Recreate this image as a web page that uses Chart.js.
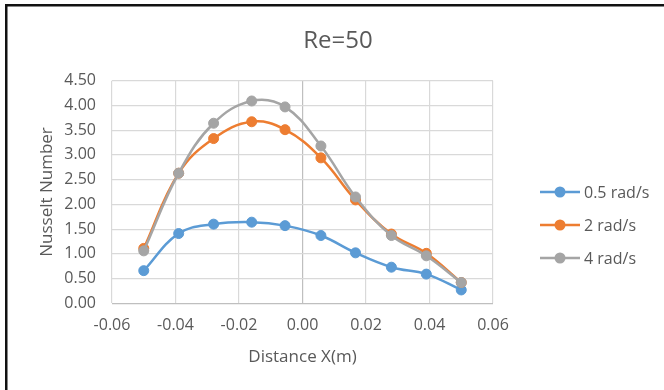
<!DOCTYPE html>
<html>
<head>
<meta charset="utf-8">
<script src="https://cdn.jsdelivr.net/npm/chart.js@4/dist/chart.umd.min.js"></script>
<style>
  html, body { margin: 0; padding: 0; background: #fff; }
  #wrap { width: 664px; height: 390px; }
</style>
</head>
<body>
<div id="wrap"><canvas id="c" width="664" height="390"></canvas></div>
<script>
// ---- data ----
const titleText = "Re=50";
const xTitle = "Distance X(m)";
const yTitle = "Nusselt Number";
const seriesNames = ["0.5 rad/s", "2 rad/s", "4 rad/s"];
const xValues = [-0.050, -0.039, -0.028, -0.016, -0.0055, 0.0058, 0.0167, 0.028, 0.039, 0.050];
const nu05 = [0.66, 1.41, 1.60, 1.64, 1.57, 1.37, 1.02, 0.73, 0.59, 0.27];
const nu2  = [1.11, 2.63, 3.33, 3.67, 3.51, 2.94, 2.09, 1.40, 1.01, 0.42];
const nu4  = [1.06, 2.63, 3.64, 4.09, 3.97, 3.18, 2.15, 1.37, 0.96, 0.42];
const xTicks = [-0.06, -0.04, -0.02, 0.00, 0.02, 0.04, 0.06];
const yTicks = [0.00, 0.50, 1.00, 1.50, 2.00, 2.50, 3.00, 3.50, 4.00, 4.50];

const colors = ["#5B9BD5", "#ED7D31", "#A5A5A5"];
const textColor = "#595959";
const FONT = "'Open Sans', 'Noto Sans', sans-serif";

function pts(ys) { return xValues.map((x, i) => ({ x: x, y: ys[i] })); }
const seriesValues = [nu05, nu2, nu4];

const datasets = seriesValues.map((ys, i) => ({
  label: seriesNames[i],
  data: pts(ys),
  showLine: true,
  borderColor: colors[i],
  backgroundColor: colors[i],
  pointBackgroundColor: colors[i],
  pointBorderColor: colors[i],
  pointRadius: 5,
  pointHoverRadius: 5,
  pointBorderWidth: 1,
  borderWidth: 2.5,
  tension: 0.4,
  order: 3 - i
}));

const decor = {
  id: 'decor',
  beforeDraw(chart) {
    const ctx = chart.ctx;
    ctx.save();
    ctx.fillStyle = '#ffffff';
    ctx.fillRect(0, 0, chart.width, chart.height);
    ctx.fillStyle = '#111111';
    ctx.fillRect(5, 4, chart.width - 5, 2.5);
    ctx.fillRect(5, 4, 2.5, chart.height - 4);
    ctx.restore();
  },
  afterDraw(chart) {
    const ctx = chart.ctx;
    ctx.save();
    // title
    ctx.fillStyle = textColor;
    ctx.font = "24px " + FONT;
    ctx.textAlign = 'center';
    ctx.textBaseline = 'middle';
    ctx.fillText(titleText, 338, 41);
    // legend
    const ys = [192, 225, 258];
    ctx.font = "16px " + FONT;
    ctx.textAlign = 'left';
    seriesNames.forEach((name, i) => {
      const y = ys[i];
      ctx.strokeStyle = colors[i];
      ctx.lineWidth = 2.5;
      ctx.beginPath();
      ctx.moveTo(540, y);
      ctx.lineTo(580, y);
      ctx.stroke();
      ctx.fillStyle = colors[i];
      ctx.beginPath();
      ctx.arc(560, y, 5.5, 0, Math.PI * 2);
      ctx.fill();
      ctx.fillStyle = textColor;
      ctx.fillText(name, 584, y + 1);
    });
    ctx.restore();
  }
};

new Chart(document.getElementById('c'), {
  type: 'scatter',
  data: { datasets },
  options: {
    responsive: false,
    animation: false,
    layout: { padding: { left: 0, top: 80.7, right: 171, bottom: 0 } },
    plugins: {
      legend: { display: false },
      title: { display: false },
      tooltip: { enabled: false }
    },
    scales: {
      x: {
        type: 'linear',
        min: -0.06, max: 0.06,
        afterBuildTicks(scale) { scale.ticks = xTicks.map(v => ({ value: v })); },
        afterFit(scale) { scale.height = 390 - 303.3; },
        ticks: {
          color: textColor,
          font: { family: FONT, size: 16 },
          padding: 13,
          maxRotation: 0,
          callback: (v) => Number(v).toFixed(2)
        },
        grid: {
          drawTicks: false,
          lineWidth: 1.2,
          color: (c) => (c.tick && Math.abs(c.tick.value) < 1e-9) ? '#BFBFBF' : '#D9D9D9'
        },
        border: { display: false },
        title: {
          display: true,
          text: xTitle,
          color: textColor,
          font: { family: FONT, size: 17 },
          padding: { top: 0, bottom: 23 }
        }
      },
      y: {
        type: 'linear',
        min: 0, max: 4.5,
        afterBuildTicks(scale) { scale.ticks = yTicks.map(v => ({ value: v })); },
        afterFit(scale) { scale.width = 112; },
        ticks: {
          color: textColor,
          font: { family: FONT, size: 16 },
          padding: 16,
          callback: (v) => Number(v).toFixed(2)
        },
        grid: {
          drawTicks: false,
          lineWidth: 1.2,
          color: (c) => (c.tick && Math.abs(c.tick.value) < 1e-9) ? '#BFBFBF' : '#D9D9D9'
        },
        border: { display: false },
        title: {
          display: true,
          text: yTitle,
          color: textColor,
          font: { family: FONT, size: 17 },
          padding: { top: 37, bottom: 0 }
        }
      }
    }
  },
  plugins: [decor]
});
</script>
</body>
</html>
